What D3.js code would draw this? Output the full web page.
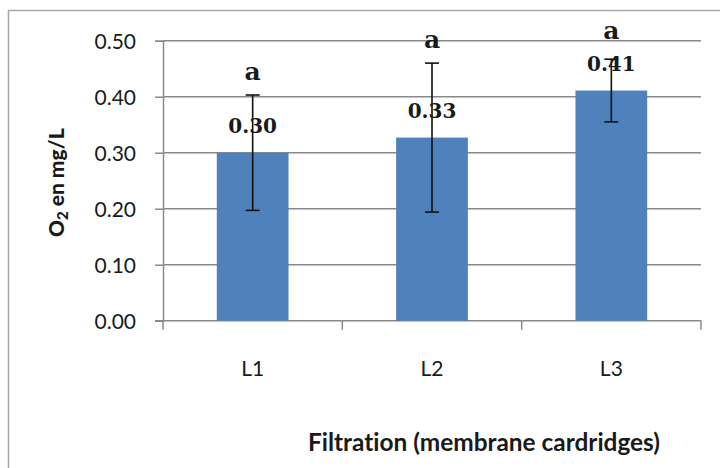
<!DOCTYPE html>
<html>
<head>
<meta charset="utf-8">
<script src="https://cdn.jsdelivr.net/npm/d3@7/dist/d3.min.js"></script>
<style>
  html, body { margin: 0; padding: 0; background: #ffffff; }
  svg { display: block; }
  text { font-variant-ligatures: none; }
</style>
</head>
<body>
<svg id="chart" width="720" height="468"></svg>
<script>
// ---- data ----
const categories = ["L1", "L2", "L3"];
const means = [0.300, 0.327, 0.411];
const errors = [0.103, 0.133, 0.056];
const letters = ["a", "a", "a"];
const yTicks = [0.00, 0.10, 0.20, 0.30, 0.40, 0.50];
const xTitle = "Filtration (membrane cardridges)";

// ---- layout ----
const W = 720, H = 468;
const plot = { left: 163, right: 701, top: 40.7, bottom: 320.7 };

const svg = d3.select("#chart");

// outer border
svg.append("rect")
  .attr("x", 8.5).attr("y", 10.5)
  .attr("width", W + 10).attr("height", H + 10)
  .attr("fill", "none").attr("stroke", "#a6a6a6").attr("stroke-width", 1.5);

const x = d3.scaleBand().domain(categories)
  .range([plot.left, plot.right]).paddingInner(0.6).paddingOuter(0.3);
const y = d3.scaleLinear().domain([0, 0.5]).range([plot.bottom, plot.top]);

const gridColor = "#8a8a8a";

// gridlines
svg.append("g").selectAll("line").data(yTicks.filter(d => d > 0)).join("line")
  .attr("x1", plot.left).attr("x2", plot.right)
  .attr("y1", d => y(d)).attr("y2", d => y(d))
  .attr("stroke", gridColor).attr("stroke-width", 1.5);

// y axis
const yAxis = svg.append("g").attr("transform", `translate(${plot.left},0)`)
  .call(d3.axisLeft(y).tickValues(yTicks).tickFormat(d3.format(".2f")).tickSize(8).tickPadding(19));
yAxis.select(".domain").attr("stroke", gridColor).attr("stroke-width", 1.5);
yAxis.selectAll(".tick line").attr("stroke", gridColor).attr("stroke-width", 1.5);
yAxis.selectAll(".tick text")
  .attr("font-family", "Lato, 'Open Sans', sans-serif").attr("font-size", 21)
  .attr("fill", "#1a1a1a").attr("dy", "0.36em");

// x axis baseline
svg.append("line")
  .attr("x1", plot.left - 8).attr("x2", plot.right)
  .attr("y1", plot.bottom).attr("y2", plot.bottom)
  .attr("stroke", gridColor).attr("stroke-width", 1.5);

// x category boundary ticks
const boundaries = d3.range(categories.length + 1).map(i => plot.left + i * x.step());
svg.append("g").selectAll("line").data(boundaries).join("line")
  .attr("x1", d => d).attr("x2", d => d)
  .attr("y1", plot.bottom).attr("y2", plot.bottom + 9)
  .attr("stroke", gridColor).attr("stroke-width", 1.5);

// x labels
svg.append("g").selectAll("text").data(categories).join("text")
  .attr("x", d => x(d) + x.bandwidth() / 2).attr("y", plot.bottom + 55)
  .attr("text-anchor", "middle")
  .attr("font-family", "Lato, 'Open Sans', sans-serif").attr("font-size", 21)
  .attr("fill", "#1a1a1a").text(d => d);

// bars
const data = categories.map((c, i) => ({ c, m: means[i], e: errors[i], l: letters[i] }));
svg.append("g").selectAll("rect").data(data).join("rect")
  .attr("x", d => x(d.c)).attr("width", x.bandwidth())
  .attr("y", d => y(d.m)).attr("height", d => y(0) - y(d.m))
  .attr("fill", "#4f81bd");

// error bars
const eb = svg.append("g").attr("stroke", "#111").attr("stroke-width", 1.6);
data.forEach(d => {
  const cx = x(d.c) + x.bandwidth() / 2;
  eb.append("line").attr("x1", cx).attr("x2", cx).attr("y1", y(d.m + d.e)).attr("y2", y(d.m - d.e));
  eb.append("line").attr("x1", cx - 7).attr("x2", cx + 7).attr("y1", y(d.m + d.e)).attr("y2", y(d.m + d.e));
  eb.append("line").attr("x1", cx - 7).attr("x2", cx + 7).attr("y1", y(d.m - d.e)).attr("y2", y(d.m - d.e));
});

// value labels
svg.append("g").selectAll("text").data(data).join("text")
  .attr("x", d => x(d.c) + x.bandwidth() / 2)
  .attr("y", d => y(d.m) - 20)
  .attr("text-anchor", "middle")
  .attr("font-family", "'DejaVu Serif', serif").attr("font-weight", "bold").attr("font-size", 20)
  .attr("fill", "#1a1a1a").text(d => d3.format(".2f")(d.m));

// significance letters
svg.append("g").selectAll("text").data(data).join("text")
  .attr("x", d => x(d.c) + x.bandwidth() / 2)
  .attr("y", d => Math.min(y(d.m + d.e) - 15, y(d.m) - 20 - 32))
  .attr("text-anchor", "middle")
  .attr("font-family", "'DejaVu Serif', serif").attr("font-weight", "bold").attr("font-size", 25)
  .attr("fill", "#1a1a1a").text(d => d.l);

// y title
const yt = svg.append("text")
  .attr("transform", `translate(64, ${(plot.top + plot.bottom) / 2 + 2}) rotate(-90)`)
  .attr("text-anchor", "middle")
  .attr("font-family", "Lato, 'Open Sans', sans-serif").attr("font-weight", "900").attr("font-size", 21)
  .attr("fill", "#1a1a1a");
yt.append("tspan").text("O");
yt.append("tspan").attr("font-size", 15).attr("dy", 4).text("2");
yt.append("tspan").attr("dy", -4).text(" en mg/L");

// x title
svg.append("text")
  .attr("x", 484).attr("y", 451)
  .attr("text-anchor", "middle")
  .attr("textLength", 352).attr("lengthAdjust", "spacingAndGlyphs")
  .attr("font-family", "Lato, 'Open Sans', sans-serif").attr("font-weight", "bold").attr("font-size", 24)
  .attr("fill", "#1a1a1a").text(xTitle);
</script>
</body>
</html>
